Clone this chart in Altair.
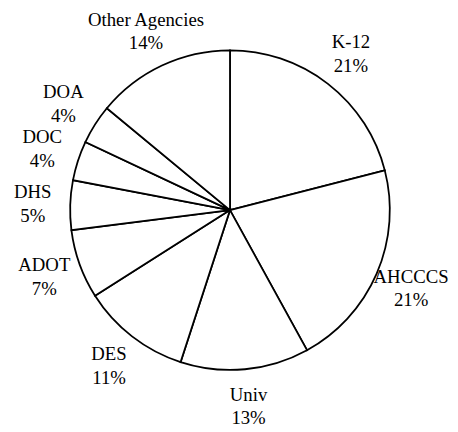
import altair as alt
import pandas as pd

agencies = ["K-12", "AHCCCS", "Univ", "DES", "ADOT", "DHS", "DOC", "DOA", "Other Agencies"]
shares = [21, 21, 13, 11, 7, 5, 4, 4, 14]

df = pd.DataFrame({
    "agency": agencies,
    "share": shares,
    "order": list(range(len(agencies))),
})
df["label"] = [f"{a}\n{s}%" for a, s in zip(agencies, shares)]

CX, CY = 225, 202

base = alt.Chart(df).encode(
    theta=alt.Theta("share:Q", stack=True),
    order=alt.Order("order:Q"),
    x=alt.value(CX),
    y=alt.value(CY),
)

pie = base.mark_arc(outerRadius=162, fill="white", stroke="black", strokeWidth=1.8)
text = base.mark_text(
    radius=200,
    font="Liberation Serif",
    fontSize=19,
    lineBreak="\n",
    lineHeight=24,
    baseline="middle",
    align="center",
    dy=-12,
    color="black",
).encode(text="label:N")

chart = (pie + text).properties(
    width=448, height=422, padding=0, autosize=alt.AutoSizeParams(type="none")
).configure_view(stroke=None)

chart.save("out.html", embed_options={"renderer": "svg", "actions": False})
